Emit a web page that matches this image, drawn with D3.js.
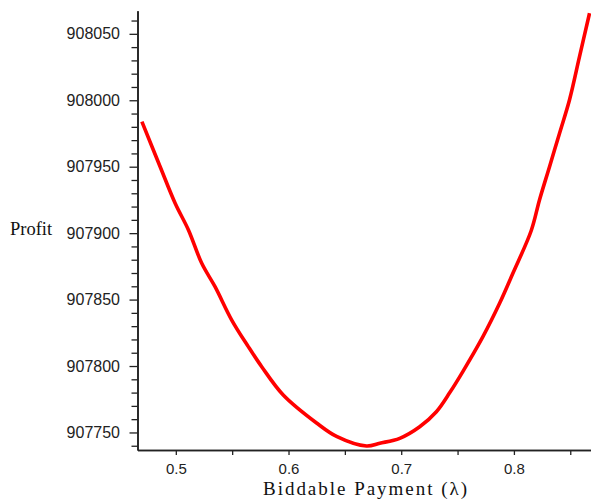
<!DOCTYPE html>
<html>
<head>
<meta charset="utf-8">
<script src="https://cdn.jsdelivr.net/npm/d3@7"></script>
<style>
  html, body { margin: 0; padding: 0; background: #fff; }
  svg { display: block; }
</style>
</head>
<body>
<svg id="chart" width="591" height="499"></svg>
<script>
// Data (lambda, profit)
const lambdaValues = [0.4699, 0.4861, 0.4994, 0.5112, 0.5230, 0.5348, 0.5496, 0.5643, 0.5762, 0.5953,
  0.6249, 0.6426, 0.6692, 0.6810, 0.6987, 0.7164, 0.7312, 0.7431, 0.7548, 0.7725,
  0.7873, 0.7991, 0.8154, 0.8227, 0.8316, 0.8405, 0.8493, 0.8582, 0.8671];
const profitValues = [907983.9, 907950.0, 907922.5, 907902.4, 907877.3, 907859.7, 907834.6, 907814.6, 907799.5, 907778.2,
  907757.1, 907747.0, 907739.8, 907741.9, 907745.6, 907754.3, 907765.6, 907780.0, 907796.0, 907822.1,
  907847.2, 907869.8, 907902.0, 907925.0, 907950.0, 907975.2, 908000.2, 908032.8, 908065.5];
const xMajorTicks = [0.5, 0.6, 0.7, 0.8];
const xMinorTicks = [0.55, 0.65, 0.75, 0.85];
const yMajorTicks = [907750, 907800, 907850, 907900, 907950, 908000, 908050];
const yMinorTicks = [907740, 907760, 907770, 907780, 907790, 907810, 907820, 907830, 907840,
  907860, 907870, 907880, 907890, 907910, 907920, 907930, 907940, 907960, 907970, 907980, 907990,
  908010, 908020, 908030, 908040, 908060];
const xDomain = [0.466, 0.8684];
const yDomain = [907736.8, 908067.4];
const xTitle = "Biddable Payment (\u03BB)";
const yTitle = "Profit";

const svg = d3.select("#chart");
const x = d3.scaleLinear().domain(xDomain).range([137.5, 591]);
const y = d3.scaleLinear().domain(yDomain).range([450, 10.7]);

const axisColor = "#222";
const tickFont = "'Liberation Sans', Arial, sans-serif";
const titleFont = "'Liberation Serif', 'Times New Roman', serif";

function styleAxis(g) {
  g.select(".domain").attr("stroke", axisColor).attr("stroke-width", 1.6);
  g.selectAll(".tick line").attr("stroke", axisColor).attr("stroke-width", 1.3);
  g.selectAll(".tick text").attr("fill", "#222").attr("font-family", tickFont);
}

// Y minor ticks
svg.append("g")
  .attr("transform", "translate(137.5,0)")
  .call(d3.axisLeft(y).tickValues(yMinorTicks).tickSize(6).tickSizeOuter(0).tickFormat(""))
  .call(styleAxis);
// Y major ticks
svg.append("g")
  .attr("transform", "translate(137.5,0)")
  .call(d3.axisLeft(y).tickValues(yMajorTicks).tickSize(8).tickSizeOuter(0).tickPadding(9.5).tickFormat(d3.format("d")))
  .call(g => g.selectAll(".tick text").attr("font-size", 16))
  .call(styleAxis);

// X minor ticks
svg.append("g")
  .attr("transform", "translate(0,450)")
  .call(d3.axisBottom(x).tickValues(xMinorTicks).tickSize(5).tickSizeOuter(0).tickFormat(""))
  .call(styleAxis);
// X major ticks
svg.append("g")
  .attr("transform", "translate(0,450)")
  .call(d3.axisBottom(x).tickValues(xMajorTicks).tickSize(5).tickSizeOuter(0).tickPadding(7.9).tickFormat(d3.format(".1f")))
  .call(g => g.selectAll(".tick text").attr("font-size", 15))
  .call(styleAxis);

// Curve
const pts = lambdaValues.map((v, i) => [v, profitValues[i]]);
const line = d3.line()
  .x(d => x(d[0]))
  .y(d => y(d[1]))
  .curve(d3.curveCatmullRom.alpha(0.5));
svg.append("path")
  .datum(pts)
  .attr("d", line)
  .attr("fill", "none")
  .attr("stroke", "#ff0000")
  .attr("stroke-width", 3.6)
  .attr("stroke-linejoin", "round")
  .attr("stroke-linecap", "butt");

// Titles
svg.append("text")
  .attr("x", 10).attr("y", 235)
  .attr("font-family", titleFont)
  .attr("font-size", 18.5)
  .attr("fill", "#111")
  .text(yTitle);

svg.append("text")
  .attr("x", 263).attr("y", 494.5)
  .attr("font-family", titleFont)
  .attr("font-size", 19)
  .attr("fill", "#111")
  .attr("textLength", 204)
  .attr("lengthAdjust", "spacing")
  .text(xTitle);
</script>
</body>
</html>
